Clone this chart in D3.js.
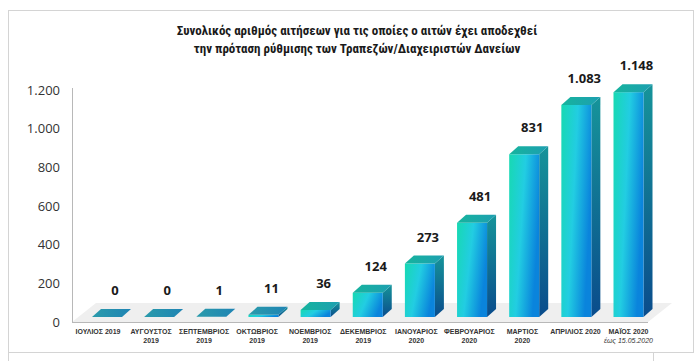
<!DOCTYPE html>
<html>
<head>
<meta charset="utf-8">
<script src="https://cdn.jsdelivr.net/npm/d3@7"></script>
<style>
  body { margin: 0; background: #fff; }
  #chart { width: 700px; height: 361px; }
  .title { font-family: "Liberation Sans Narrow", "Roboto Condensed", "Liberation Sans", sans-serif; font-weight: bold; font-size: 13px; fill: #1a1a1a; }
  .y.axis text { font-family: "Open Sans", "Liberation Sans", sans-serif; font-size: 13px; fill: #333; }
  .cat { font-family: "Liberation Sans Narrow", "Liberation Sans", sans-serif; font-weight: bold; font-size: 7px; fill: #333; }
  .val { font-family: "Open Sans", "Liberation Sans", sans-serif; font-weight: bold; font-size: 13px; fill: #1a1a1a; }
</style>
</head>
<body>
<div id="chart"></div>
<script>
var titleLines = ["Συνολικός αριθμός αιτήσεων για τις οποίες ο αιτών έχει αποδεχθεί",
                  "την πρόταση ρύθμισης των Τραπεζών/Διαχειριστών  Δανείων"];

var months = [
  ["ΙΟΥΛΙΟΣ 2019"],
  ["ΑΥΓΟΥΣΤΟΣ", "2019"],
  ["ΣΕΠΤΕΜΒΡΙΟΣ", "2019"],
  ["ΟΚΤΩΒΡΙΟΣ", "2019"],
  ["ΝΟΕΜΒΡΙΟΣ", "2019"],
  ["ΔΕΚΕΜΒΡΙΟΣ", "2019"],
  ["ΙΑΝΟΥΑΡΙΟΣ", "2020"],
  ["ΦΕΒΡΟΥΑΡΙΟΣ", "2020"],
  ["ΜΑΡΤΙΟΣ", "2020"],
  ["ΑΠΡΙΛΙΟΣ 2020"],
  ["ΜΑΪΟΣ 2020", "έως 15.05.2020"]
];

var values = [0, 0, 1, 11, 36, 124, 273, 481, 831, 1083, 1148];

var yTicks = [0, 200, 400, 600, 800, 1000, 1200];

var locale = d3.formatLocale({decimal: ",", thousands: ".", grouping: [3], currency: ["", "€"]});
var fmt = locale.format(",d");

var svg = d3.select('#chart').append('svg')
    .attr('width', 700)
    .attr('height', 361);

var defs = svg.append('defs');

var front = defs.append('linearGradient').attr('id', 'front')
    .attr('x1', 0).attr('y1', 0).attr('x2', 1).attr('y2', 0.35);
front.append('stop').attr('offset', '0%').attr('stop-color', '#17d9b2');
front.append('stop').attr('offset', '50%').attr('stop-color', '#22cde2');
front.append('stop').attr('offset', '100%').attr('stop-color', '#0a84dc');

var side = defs.append('linearGradient').attr('id', 'side')
    .attr('x1', 0).attr('y1', 0).attr('x2', 0).attr('y2', 1);
side.append('stop').attr('offset', '0%').attr('stop-color', '#16949a');
side.append('stop').attr('offset', '100%').attr('stop-color', '#0a4c8c');

var top3d = defs.append('linearGradient').attr('id', 'top3d')
    .attr('x1', 0).attr('y1', 0).attr('x2', 1).attr('y2', 0);
top3d.append('stop').attr('offset', '0%').attr('stop-color', '#16b49e');
top3d.append('stop').attr('offset', '100%').attr('stop-color', '#1d9fb0');

// zero-height bars only show a flat lid
var flat = defs.append('linearGradient').attr('id', 'flat')
    .attr('x1', 0).attr('y1', 0).attr('x2', 1).attr('y2', 0);
flat.append('stop').attr('offset', '0%').attr('stop-color', '#2a9bab');
flat.append('stop').attr('offset', '100%').attr('stop-color', '#1f84b4');

// frame around the chart
svg.append('rect')
    .attr('x', 8.5).attr('y', 10.5)
    .attr('width', 685).attr('height', 342)
    .attr('fill', 'none').attr('stroke', '#d4d4d4');
svg.append('line').attr('x1', 8.5).attr('x2', 8.5).attr('y1', 352).attr('y2', 361).attr('stroke', '#d4d4d4');
svg.append('line').attr('x1', 653.5).attr('x2', 653.5).attr('y1', 352).attr('y2', 361).attr('stroke', '#d4d4d4');

svg.selectAll('text.title')
    .data(titleLines)
    .enter()
    .append('text')
    .attr('class', 'title')
    .attr('x', 357)
    .attr('y', function(d, i) { return 35 + i * 18; })
    .attr('text-anchor', 'middle')
    .text(function(d) { return d; });

// scales (bars sit a bit behind the floor front edge, so their own y scale)
var yScale = d3.scaleLinear().domain([0, 1200]).range([322, 90]);
var barY = d3.scaleLinear().domain([0, 1200]).range([317, 82]);
var idx = d3.range(values.length);
var xLabel = d3.scalePoint().domain(idx).range([98, 628.5]);
var xBar = d3.scalePoint().domain(idx).range([107, 628.5]);
var barW = 30, dx = 9, dy = -8;

// floor
svg.append('path')
    .attr('d', 'M72,322 L648,322 L672,303 L96,303 Z')
    .attr('fill', '#efefef');
svg.append('line')
    .attr('x1', 72).attr('x2', 648).attr('y1', 322.5).attr('y2', 322.5)
    .attr('stroke', '#b8b8b8');
svg.append('line')
    .attr('x1', 72.5).attr('x2', 72.5).attr('y1', 88).attr('y2', 322)
    .attr('stroke', '#b8b8b8');

var yAxis = d3.axisLeft(yScale)
    .tickValues(yTicks)
    .tickSize(0)
    .tickPadding(12)
    .tickFormat(fmt);

svg.append('g')
    .attr('class', 'y axis')
    .attr('transform', 'translate(72,0)')
    .call(yAxis)
    .call(function(g) { g.select('.domain').remove(); });

// 3d bars: side, front, lid
svg.selectAll('g.bar')
    .data(values)
    .enter()
    .append('g')
    .attr('class', 'bar')
    .each(function(d, i) {
      var g = d3.select(this);
      var x0 = xBar(i) - barW / 2, x1 = x0 + barW;
      var yb = barY(0), yt = barY(d);
      if (yb - yt > 0.5) {
        g.append('path')
          .attr('d', `M${x1},${yt} L${x1 + dx},${yt + dy} L${x1 + dx},${yb + dy} L${x1},${yb} Z`)
          .attr('fill', 'url(#side)');
        g.append('rect')
          .attr('x', x0).attr('y', yt)
          .attr('width', barW).attr('height', yb - yt)
          .attr('fill', 'url(#front)');
      }
      g.append('path')
        .attr('d', `M${x0},${yt} L${x1},${yt} L${x1 + dx},${yt + dy} L${x0 + dx},${yt + dy} Z`)
        .attr('fill', yb - yt > 3 ? 'url(#top3d)' : 'url(#flat)');
    });

svg.selectAll('text.val')
    .data(values)
    .enter()
    .append('text')
    .attr('class', 'val')
    .attr('x', function(d, i) { return xBar(i) + 8; })
    .attr('y', function(d) { return barY(d) + dy - 14; })
    .attr('text-anchor', 'middle')
    .text(function(d) { return fmt(d); });

// category labels
var cats = svg.selectAll('text.cat')
    .data(months)
    .enter()
    .append('text')
    .attr('class', 'cat')
    .attr('text-anchor', 'middle');

cats.selectAll('tspan')
    .data(function(d, i) { return d.map(function(t) { return {t: t, i: i}; }); })
    .enter()
    .append('tspan')
    .attr('x', function(d) { return xLabel(d.i); })
    .attr('y', function(d, j) { return 334 + j * 9; })
    .style('font-style', function(d) { return d.t.indexOf('έως') === 0 ? 'italic' : null; })
    .style('font-weight', function(d) { return d.t.indexOf('έως') === 0 ? 'normal' : null; })
    .text(function(d) { return d.t; });
</script>
</body>
</html>
